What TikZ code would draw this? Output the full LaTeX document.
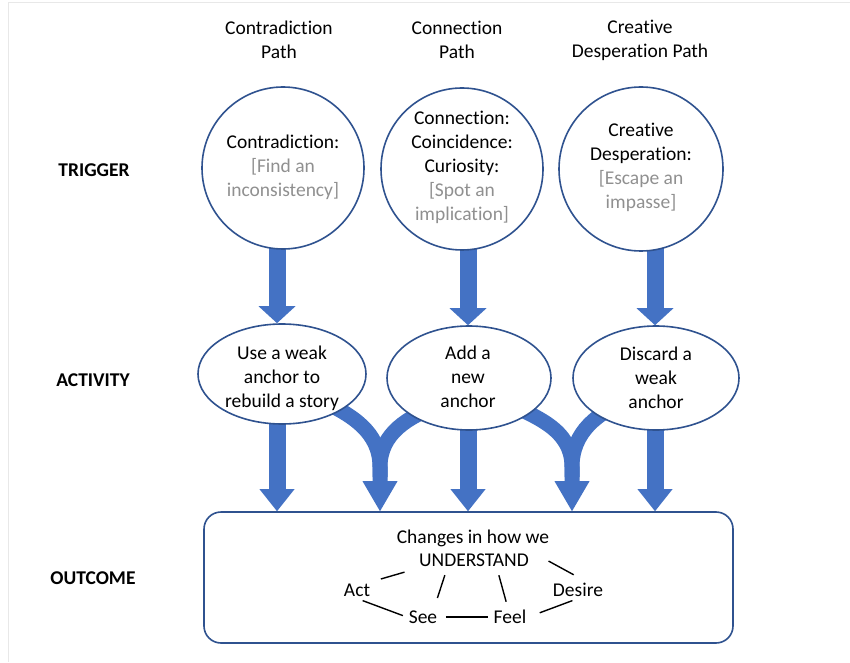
\documentclass[tikz,border=0pt]{standalone}
\usepackage{fontspec}
\setmainfont{Carlito}[Ligatures=NoCommon]
\usetikzlibrary{arrows.meta,shapes.geometric,backgrounds}
\definecolor{flowblue}{HTML}{4472C4}
\definecolor{edgeblue}{HTML}{2F528F}
\definecolor{hintgray}{HTML}{909090}
\definecolor{framegray}{HTML}{E8E8E8}
\newcommand{\hint}[1]{\textcolor{hintgray}{#1}}
\begin{document}
\begin{tikzpicture}[x=1pt,y=1pt,
  every node/.style={font=\fontsize{19.5}{24}\selectfont, inner sep=0pt, align=center},
  trigger/.style={circle, draw=edgeblue, line width=1.6pt, fill=white, minimum size=162pt},
  activity/.style={ellipse, draw=edgeblue, line width=1.6pt, fill=white},
  outcomebox/.style={draw=edgeblue, line width=1.6pt, fill=white, rounded corners=17pt,
    minimum width=529pt, minimum height=131pt},
  rowlabel/.style={font=\fontsize{19.5}{24}\selectfont\bfseries},
  word/.style={inner sep=2pt, text height=12.6pt, text depth=0pt},
  wordline/.style={line width=1.4pt, black},
  downflow/.style={draw=flowblue, line width=17pt,
    -{Triangle[width=37pt,length=17pt,line width=0pt]}},
  outflow/.style={draw=flowblue, line width=17pt,
    -{Triangle[width=35pt,length=22pt,line width=0pt]}},
  mergeflow/.style={draw=flowblue, line width=15pt,
    -{Triangle[width=35pt,length=30pt,line width=0pt]}},
  branch/.style={draw=flowblue, line width=15pt}
]
\useasboundingbox (0,0) rectangle (850,662);

% column headings
\node (h1) at (279,622) {Contradiction\\Path};
\node (h2) at (457,622) {Connection\\Path};
\node (h3) at (640,622) {Creative\\Desperation Path};

% row labels
\node[rowlabel] (rtrigger) at (94,492) {TRIGGER};
\node[rowlabel] (ractivity) at (93,282) {ACTIVITY};
\node[rowlabel] (routcome) at (93,84) {OUTCOME};

% triggers
\node[trigger] (c1) at (283,494) {};
\node[trigger] (c2) at (462,493) {};
\node[trigger, minimum size=164pt] (c3) at (641,493) {};
\node (c1t) at (283,494.5) {Contradiction:\\\hint{[Find an}\\\hint{inconsistency]}};
\node (c2t) at (462,495) {Connection:\\Coincidence:\\Curiosity:\\\hint{[Spot an}\\\hint{implication]}};
\node (c3t) at (641,495) {Creative\\Desperation:\\\hint{[Escape an}\\\hint{impasse]}};

% activities
\node[activity, minimum width=168pt, minimum height=100pt] (e1) at (282,288) {};
\node[activity, minimum width=164pt, minimum height=104pt] (e2) at (469,284) {};
\node[activity, minimum width=166pt, minimum height=104pt] (e3) at (656,284) {};
\node (e1t) at (282,284) {Use a weak\\anchor to\\rebuild a story};
\node (e2t) at (468,285) {Add a\\new\\anchor};
\node (e3t) at (656,284) {Discard a\\weak\\anchor};

% outcome
\node[outcomebox] (box) at (468.5,84.5) {};
\node[word] (chg) at (473,125) {Changes in how we};
\node[word] (und) at (474,102) {UNDERSTAND};
\node[word] (act) at (357,72) {Act};
\node[word] (desire) at (578,72) {Desire};
\node[word] (see) at (423,45) {See};
\node[word] (feel) at (510,45) {Feel};

\draw[wordline, shorten <=9pt, shorten >=13pt] (act.north east) -- (und.south west);
\draw[wordline, shorten <=7pt, shorten >=11pt] ([xshift=-27]und.south) -- ([xshift=11]see.north);
\draw[wordline, shorten <=7pt, shorten >=7pt] ([xshift=23]und.south) -- ([xshift=-2]feel.north);
\draw[wordline, shorten <=20pt, shorten >=14pt] (und.north east) -- ([xshift=8]desire.north);
\draw[wordline, shorten <=6pt, shorten >=4pt] (act.south) -- (see.west);
\draw[wordline, shorten <=6.5pt, shorten >=3.6pt] (see.east) -- (feel.west);
\draw[wordline, shorten <=12pt, shorten >=6pt] (feel.east) -- (desire.south);

% merge points of the curved flows
\coordinate (m1) at (380,195);
\coordinate (m2) at (572,195);

\begin{pgfonlayer}{background}
  \fill[white] (0,0) rectangle (850,662);
  \draw[framegray, line width=1pt] (8,0) -- (8,659) -- (850,659);

  % trigger -> activity
  \draw[downflow] ([xshift=-6]c1.center) -- ([xshift=-5]e1.north);
  \draw[downflow] ([xshift=6]c2.center) -- ([xshift=-1]e2.north);
  \draw[downflow] ([xshift=14]c3.center) -- ([xshift=-1]e3.north);

  % activity -> outcome, straight
  \draw[outflow] ([xshift=-5]e1.center) -- ([xshift=-5]e1.center |- box.north);
  \draw[outflow] ([xshift=-1]e2.center) -- ([xshift=-1]e2.center |- box.north);
  \draw[outflow] ([xshift=-1]e3.center) -- ([xshift=-1]e3.center |- box.north);

  % activity -> outcome, curved and merging
  \draw[mergeflow] ([shift={(38,-26)}]e1.center) to[out=-25,in=90] (m1) -- (m1 |- box.north);
  \draw[branch] ([shift={(-29,-27)}]e2.center) to[out=200,in=90] (m1) -- ++(0,-10);
  \draw[mergeflow] ([shift={(31,-22)}]e2.center) to[out=-25,in=90] (m2) -- (m2 |- box.north);
  \draw[branch] ([shift={(-26,-22)}]e3.center) to[out=200,in=90] (m2) -- ++(0,-10);
\end{pgfonlayer}
\end{tikzpicture}
\end{document}
